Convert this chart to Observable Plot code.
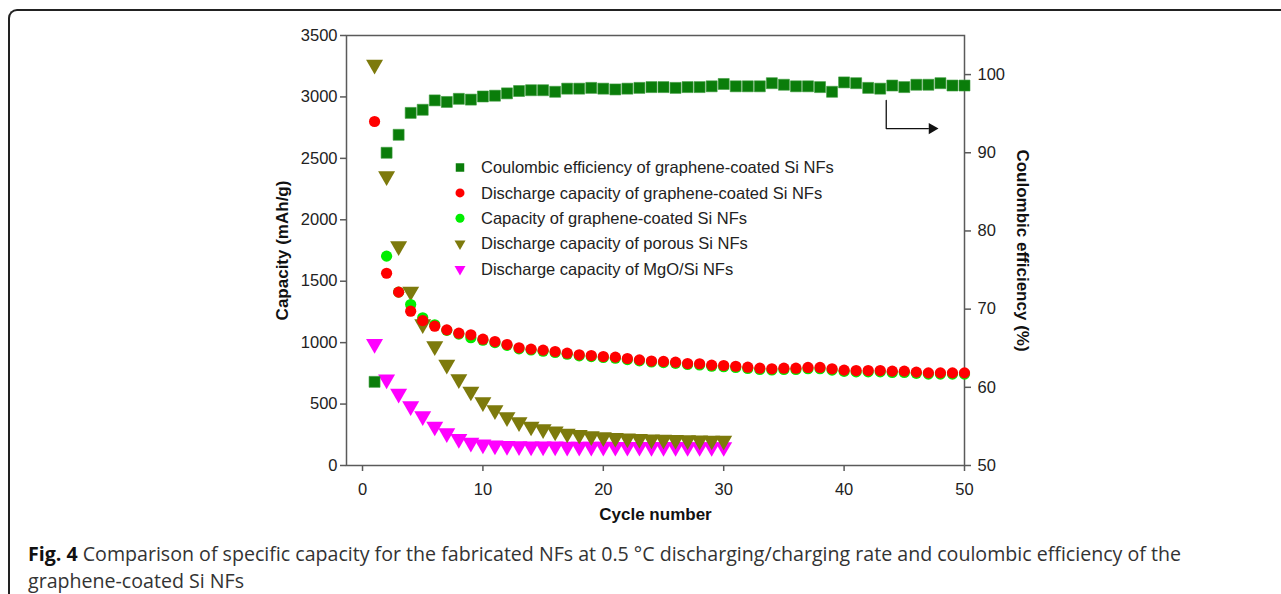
<!DOCTYPE html>
<html>
<head>
<meta charset="utf-8">
<script src="https://cdn.jsdelivr.net/npm/d3@7"></script>
<script src="https://cdn.jsdelivr.net/npm/@observablehq/plot@0.6"></script>
<style>
  html, body { margin: 0; padding: 0; background: #fff; }
  body { width: 1281px; height: 594px; position: relative; overflow: hidden; }
  #frame { position: absolute; left: 8px; top: 9px; width: 1300px; height: 700px;
           border-top: 2px solid #222; border-left: 2px solid #222; border-top-left-radius: 9px; }
  #chart { position: absolute; left: 0; top: 0; }
  #caption { position: absolute; left: 28px; top: 540px; width: 1220px;
             font-family: "Open Sans", sans-serif; font-size: 19.6px; line-height: 27px; color: #333; }
  #caption b { color: #111; }
</style>
</head>
<body>
<div id="frame"></div>
<div id="chart"></div>
<div id="caption"><b>Fig. 4</b> Comparison of specific capacity for the fabricated NFs at 0.5 °C discharging/charging rate and coulombic efficiency of the<br>graphene-coated Si NFs</div>
<script>
// ---------------- data ----------------
const cycles = [1,2,3,4,5,6,7,8,9,10,11,12,13,14,15,16,17,18,19,20,21,22,23,24,25,
                26,27,28,29,30,31,32,33,34,35,36,37,38,39,40,41,42,43,44,45,46,47,48,49,50];

// Coulombic efficiency of graphene-coated Si NFs (%) – right axis
const coulombicEfficiency = [60.7,90.0,92.3,95.1,95.5,96.7,96.5,96.9,96.8,97.2,97.3,97.6,97.9,98.0,98.0,
  97.8,98.2,98.2,98.3,98.2,98.1,98.2,98.3,98.4,98.4,98.3,98.4,98.4,98.5,98.8,98.5,98.5,98.5,98.9,98.7,
  98.5,98.5,98.4,97.8,99.0,98.9,98.3,98.2,98.6,98.4,98.7,98.7,98.9,98.6,98.6];

// Discharge capacity of graphene-coated Si NFs (mAh/g)
const dischargeGraphene = [2800,1565,1411,1256,1180,1134,1104,1077,1064,1028,1009,985,958,947,939,
  928,914,901,895,887,882,871,860,850,847,841,830,828,817,814,808,800,792,787,792,792,798,798,787,
  776,773,773,773,768,768,760,754,754,754,754];

// Capacity of graphene-coated Si NFs (mAh/g), cycles 2..50
const capacityGraphene = [1704,1411,1310,1202,1145,1100,1070,1040,1020,1000,978,950,940,930,920,906,
  893,887,879,873,862,852,843,838,832,822,818,808,804,798,790,782,778,782,782,788,788,777,766,762,
  762,762,757,757,750,744,744,744,744];

// Discharge capacity of porous Si NFs (mAh/g), cycles 1..30
const dischargePorous = [3262,2355,1785,1416,1150,971,820,703,602,516,451,393,353,317,296,277,260,
  250,239,231,225,220,216,212,210,208,206,204,203,202];

// Discharge capacity of MgO/Si NFs (mAh/g), cycles 1..30
const dischargeMgO = [990,700,584,483,401,317,263,217,185,171,163,160,158,156,155,155,154,154,153,
  153,152,152,152,151,151,151,150,150,150,150];

const xTicks = [0,10,20,30,40,50];
const capTicks = [0,500,1000,1500,2000,2500,3000,3500];
const ceTicks = [50,60,70,80,90,100];
const capDomain = [0,3500];
const ceDomain = [50,105];

const seriesNames = [
  "Coulombic efficiency of graphene-coated Si NFs",
  "Discharge capacity of graphene-coated Si NFs",
  "Capacity of graphene-coated Si NFs",
  "Discharge capacity of porous Si NFs",
  "Discharge capacity of MgO/Si NFs"
];
const seriesColors = ["#0a7d0a", "#ff0000", "#00ee00", "#7d7a0c", "#ff00ff"];
const seriesSymbols = ["square", "circle", "circle", "triangle", "triangle"];

// arrow annotation: points to the right axis (cycle, CE%)
const arrowPath = [{x: 43.5, y: 96.7}, {x: 43.5, y: 93.1}, {x: 47.0, y: 93.1}];
const arrowHead = [{x: 47.3, y: 93.1}];

// ---------------- build ----------------
const k = (capDomain[1] - capDomain[0]) / (ceDomain[1] - ceDomain[0]);
const ceToCap = v => (v - ceDomain[0]) * k;

const ceData = cycles.map((c, i) => ({x: c, y: ceToCap(coulombicEfficiency[i])}));
const redData = cycles.map((c, i) => ({x: c, y: dischargeGraphene[i]}));
const greenData = capacityGraphene.map((v, i) => ({x: cycles[i + 1], y: v}));
const porousData = dischargePorous.map((v, i) => ({x: cycles[i], y: v}));
const mgoData = dischargeMgO.map((v, i) => ({x: cycles[i], y: v}));
const arrowData = arrowPath.map(d => ({x: d.x, y: ceToCap(d.y)}));
const arrowHeadData = arrowHead.map(d => ({x: d.x, y: ceToCap(d.y)}));

const axisColor = "#5a5a5a";

const chart = Plot.plot({
  width: 1281,
  height: 530,
  marginLeft: 346,
  marginRight: 317,
  marginTop: 35,
  marginBottom: 65,
  style: {fontFamily: "'Liberation Sans', Arial, sans-serif", fontSize: "16.5px", color: "#222", background: "transparent"},
  x: {domain: [-1.33, 50]},
  y: {domain: capDomain},
  marks: [
    Plot.axisX({ticks: xTicks, tickSize: 6, tickPadding: 12, label: null, stroke: axisColor, strokeWidth: 1.5}),
    Plot.axisY({ticks: capTicks, tickFormat: d3.format("d"), tickSize: 6, tickPadding: 3, label: null, stroke: axisColor, strokeWidth: 1.5}),
    Plot.axisY({anchor: "right", ticks: ceTicks.map(ceToCap), tickFormat: d => String(Math.round(d / k + ceDomain[0])),
                tickSize: 6, tickPadding: 7, label: null, stroke: axisColor, strokeWidth: 1.5}),
    Plot.frame({stroke: axisColor, strokeWidth: 1.5}),
    Plot.dot(mgoData, {x: "x", y: "y", symbol: "triangle", rotate: 180, r: 6.3, fill: seriesColors[4], stroke: "none"}),
    Plot.dot(porousData, {x: "x", y: "y", symbol: "triangle", rotate: 180, r: 6.3, fill: seriesColors[3], stroke: "none"}),
    Plot.dot(ceData, {x: "x", y: "y", symbol: "square", r: 6.2, fill: seriesColors[0], stroke: "#3c9a3c", strokeWidth: 0.6}),
    Plot.dot(greenData, {x: "x", y: "y", symbol: "circle", r: 5.6, fill: seriesColors[2], stroke: "none"}),
    Plot.dot(redData, {x: "x", y: "y", symbol: "circle", r: 5.6, fill: seriesColors[1], stroke: "none"}),
    Plot.line(arrowData, {x: "x", y: "y", stroke: "#111", strokeWidth: 1.3}),
    Plot.dot(arrowHeadData, {x: "x", y: "y", symbol: "triangle", rotate: 90, r: 4.2, fill: "#111", stroke: "none"}),
    Plot.text(["Capacity (mAh/g)"], {text: d => d, frameAnchor: "left", textAnchor: "middle", dx: -64, rotate: -90,
                                     fontWeight: "bold", fontSize: 17, fill: "#111"}),
    Plot.text(["Coulombic efficiency (%)"], {text: d => d, frameAnchor: "right", textAnchor: "middle", dx: 58, dy: 0, rotate: 90,
                                     fontWeight: "bold", fontSize: 17, fill: "#111"}),
    Plot.text(["Cycle number"], {text: d => d, frameAnchor: "bottom", dx: 0, dy: 54,
                                     fontWeight: "bold", fontSize: 17, fill: "#111"})
  ]
});
document.getElementById("chart").appendChild(chart);

// ---------------- legend (inside plot area) ----------------
const svg = d3.select(chart);
const lg = svg.append("g").attr("font-family", "'Liberation Sans', Arial, sans-serif").attr("font-size", 16.5)
  .attr("fill", "#222").attr("text-anchor", "start");
const legX = 460, legY = 167.5, legStep = 25.4;
seriesNames.forEach((name, i) => {
  const y = legY + i * legStep;
  const sym = seriesSymbols[i] === "square" ? d3.symbolSquare : seriesSymbols[i] === "circle" ? d3.symbolCircle : d3.symbolTriangle;
  const size = seriesSymbols[i] === "square" ? 72 : seriesSymbols[i] === "circle" ? 64 : 52;
  lg.append("path")
    .attr("d", d3.symbol(sym, size)())
    .attr("transform", `translate(${legX},${y}) rotate(${seriesSymbols[i] === "triangle" ? 180 : 0})`)
    .attr("fill", seriesColors[i]);
  lg.append("text").attr("x", legX + 21).attr("y", y).attr("dy", "0.35em").text(name);
});
</script>
</body>
</html>
